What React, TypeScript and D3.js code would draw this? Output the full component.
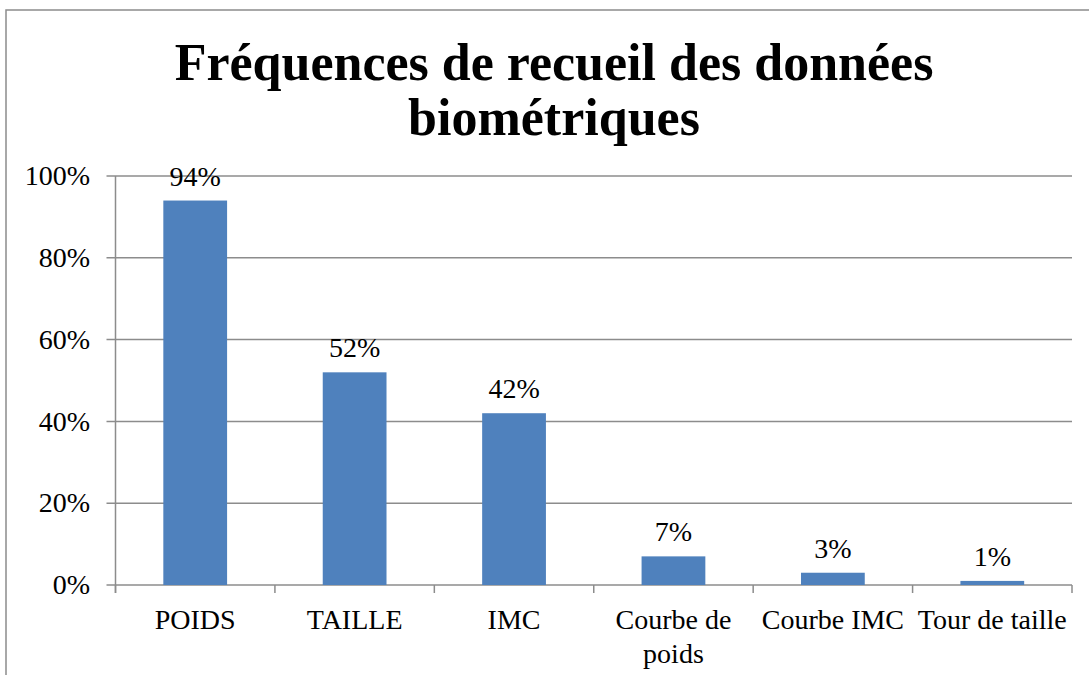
import * as d3 from "d3"

const categories = ["POIDS", "TAILLE", "IMC", "Courbe de\npoids", "Courbe IMC", "Tour de taille"]
const values = [94, 52, 42, 7, 3, 1]
const yTicks = [0, 20, 40, 60, 80, 100]
const titleLines = ["Fréquences de recueil des données", "biométriques"]

const W = 1089
const H = 675
const margin = { left: 115.5, right: 1072, top: 176, bottom: 585 }
const font = "'Liberation Serif', 'Times New Roman', serif"
const gray = "#8c8c8c"
const fs = 28

export default function App() {
    const x = d3.scaleBand<string>().domain(categories).range([margin.left, margin.right]).paddingInner(0.6).paddingOuter(0.3)
    const y = d3.scaleLinear().domain([0, 100]).range([margin.bottom, margin.top])
    const step = x.step()
    const edges = d3.range(categories.length + 1).map((i) => margin.left + i * step)

    return (
        <div style={{ position: "absolute", left: 0, top: 0 }}>
            <svg width={W} height={H} style={{ display: "block", background: "white" }}>
                {/* outer frame, cut by the page edge on right and bottom */}
                <rect x={6} y={10} width={1100} height={700} fill="white" stroke={gray} strokeWidth={1.5} />

                {titleLines.map((t, i) => (
                    <text key={t} x={554} y={80 + i * 55} textAnchor="middle" fontFamily={font} fontWeight="bold" fontSize={52} fill="#000">{t}</text>
                ))}

                {/* gridlines + y ticks */}
                {yTicks.map((t) => (
                    <g key={t}>
                        <line x1={margin.left - 9} x2={margin.right} y1={y(t)} y2={y(t)} stroke={gray} strokeWidth={1.5} />
                        <text x={90} y={y(t)} dy="0.33em" textAnchor="end" fontFamily={font} fontSize={fs} fill="#000">{t}%</text>
                    </g>
                ))}

                {/* y axis line */}
                <line x1={margin.left} x2={margin.left} y1={margin.top} y2={margin.bottom + 8} stroke={gray} strokeWidth={1.5} />

                {/* category ticks */}
                {edges.map((e, i) => (
                    <line key={i} x1={e} x2={e} y1={margin.bottom} y2={margin.bottom + 8} stroke={gray} strokeWidth={1.5} />
                ))}

                {categories.map((c, i) => {
                    const bx = x(c) as number
                    const top = y(values[i])
                    const cx = bx + x.bandwidth() / 2
                    return (
                        <g key={c}>
                            <rect x={bx} y={top} width={x.bandwidth()} height={margin.bottom - top} fill="#4f81bd" />
                            <text x={cx} y={top - 15} textAnchor="middle" fontFamily={font} fontSize={fs} fill="#000">{values[i]}%</text>
                            {c.split("\n").map((ln, j) => (
                                <text key={j} x={cx} y={629 + j * 34} textAnchor="middle" fontFamily={font} fontSize={fs} fill="#000">{ln}</text>
                            ))}
                        </g>
                    )
                })}
            </svg>
        </div>
    )
}
